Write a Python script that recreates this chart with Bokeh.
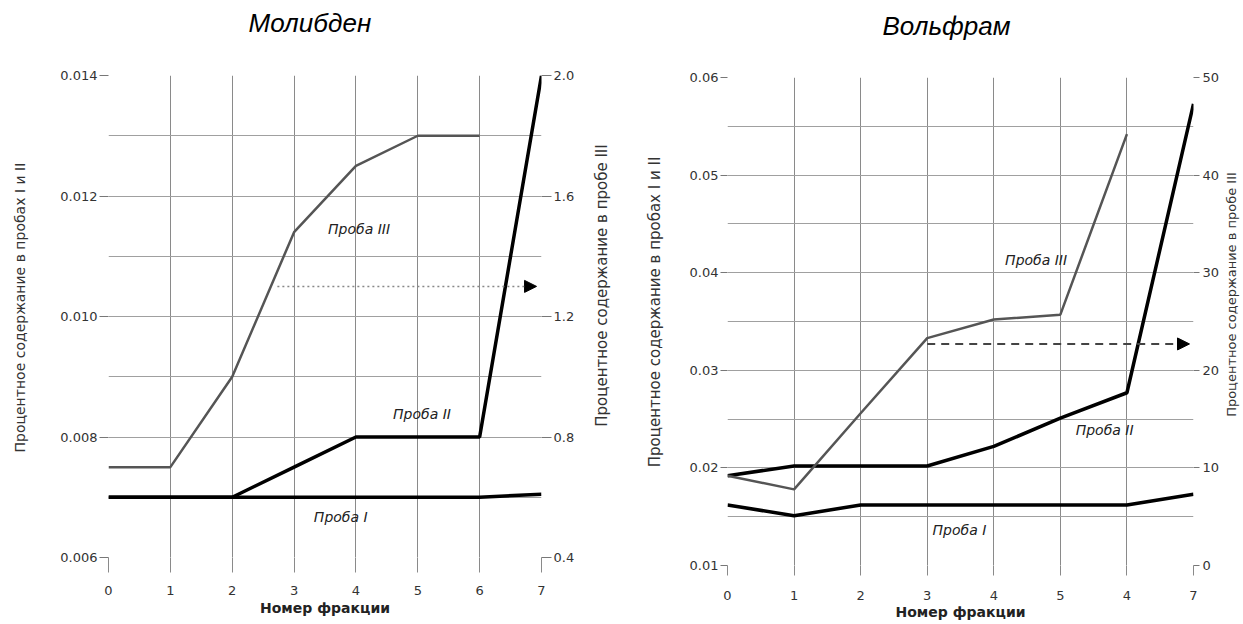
import math
from bokeh.plotting import figure
from bokeh.models import (Range1d, LinearAxis, FixedTicker, NumeralTickFormatter,
                          Label, Arrow, NormalHead, Title)
from bokeh.layouts import row
from bokeh.embed import file_html
from bokeh.resources import INLINE

# ---------------- data ----------------
fractions = [0, 1, 2, 3, 4, 5, 6, 7]
fractions_iii = [0, 1, 2, 3, 4, 5, 6]
x_labels_mo = ["0", "1", "2", "3", "4", "5", "6", "7"]
x_labels_w = ["0", "1", "2", "3", "4", "5", "4", "7"]

# Molybdenum (left axis: samples I and II, right axis: sample III)
mo_i = [0.0070, 0.0070, 0.0070, 0.0070, 0.0070, 0.0070, 0.0070, 0.00705]
mo_ii = [0.0070, 0.0070, 0.0070, 0.0075, 0.0080, 0.0080, 0.0080, 0.0140]
mo_iii = [0.70, 0.70, 1.00, 1.48, 1.70, 1.80, 1.80]
mo_left_ticks = [0.006, 0.008, 0.010, 0.012, 0.014]
mo_left_minor = [0.007, 0.009, 0.011, 0.013]
mo_right_ticks = [0.4, 0.8, 1.2, 1.6, 2.0]
mo_arrow_x = [2.73, 6.92]
mo_arrow_y = 1.3

# Tungsten
w_i = [0.0162, 0.0151, 0.0162, 0.0162, 0.0162, 0.0162, 0.0162, 0.0173]
w_ii = [0.0192, 0.0202, 0.0202, 0.0202, 0.0222, 0.0251, 0.0277, 0.0573]
w_iii = [9.2, 7.8, 15.6, 23.3, 25.2, 25.7, 44.2]
w_left_ticks = [0.01, 0.02, 0.03, 0.04, 0.05, 0.06]
w_left_minor = [0.015, 0.025, 0.035, 0.045, 0.055]
w_right_ticks = [0, 10, 20, 30, 40, 50]
w_arrow_x = [3.0, 6.94]
w_arrow_y = 22.7

LABEL_I_II = "Процентное содержание в пробах I и II"
LABEL_III = "Процентное содержание в пробе III"
NB = "\u00a0"

TICK_FONT = "DejaVu Sans"
GRID_H = "#a0a0a0"
GRID_V = "#8a8a8a"
H = 622


def base_panel(width, yr, yr_right, bl, br, bt, bb, title, title_offset, spacer):
    p = figure(width=width, height=H, x_range=Range1d(0, 7), y_range=Range1d(*yr),
               output_backend="svg", toolbar_location=None, tools="",
               min_border_left=bl, min_border_right=br, min_border_top=bt, min_border_bottom=bb,
               frame_align=False)
    p.outline_line_color = None
    p.background_fill_color = "white"
    p.border_fill_color = "white"
    p.extra_y_ranges = {"right": Range1d(*yr_right)}
    p.xgrid.grid_line_color = GRID_V
    p.xgrid.grid_line_width = 1
    p.ygrid.grid_line_color = GRID_H
    p.ygrid.minor_grid_line_color = GRID_H
    # real title (outermost)
    p.title.text = title
    p.title.text_font = "Liberation Sans"
    p.title.text_font_style = "italic"
    p.title.text_font_size = "26px"
    p.title.text_color = "black"
    p.title.align = "left"
    p.title.offset = title_offset
    p.title.standoff = 0
    p.title.vertical_align = "bottom"
    # spacer between the title and the frame
    p.add_layout(Title(text=" ", text_font_size="1px", standoff=spacer), "above")
    return p


def label_strip(width, x, y_from_top, text, size):
    s = figure(width=width, height=H, x_range=Range1d(0, width), y_range=Range1d(0, H),
               output_backend="svg", toolbar_location=None, tools="",
               x_axis_location=None, y_axis_location=None,
               min_border_left=0, min_border_right=0, min_border_top=0, min_border_bottom=0,
               frame_align=False)
    s.outline_line_color = None
    s.background_fill_color = "white"
    s.border_fill_color = "white"
    s.grid.visible = False
    s.add_layout(Label(x=x, y=H - y_from_top, text=text, text_font=TICK_FONT,
                       text_font_size=size, text_color="#333333", text_align="center",
                       text_baseline="middle", angle=math.pi / 2, angle_units="rad"))
    return s


def style_y(ax, tick_out, standoff, label=None, label_size="14px", label_standoff=5):
    ax.axis_line_color = None
    ax.major_tick_out = tick_out
    ax.major_tick_in = 0
    ax.minor_tick_out = 0
    ax.minor_tick_in = 0
    ax.major_tick_line_color = "#777777"
    ax.major_label_text_font = TICK_FONT
    ax.major_label_text_font_size = "13px"
    ax.major_label_text_color = "#333333"
    ax.major_label_standoff = standoff
    if label:
        ax.axis_label = label
        ax.axis_label_text_font = TICK_FONT
        ax.axis_label_text_font_style = "normal"
        ax.axis_label_text_font_size = label_size
        ax.axis_label_text_color = "#333333"
        ax.axis_label_standoff = label_standoff


def style_x(ax, labels, tick_out, standoff, lab_standoff):
    ax.ticker = FixedTicker(ticks=fractions)
    ax.major_label_overrides = {f: l for f, l in zip(fractions, labels)}
    ax.axis_line_color = None
    ax.major_tick_out = tick_out
    ax.major_tick_in = 0
    ax.minor_tick_out = 0
    ax.minor_tick_in = 0
    ax.major_tick_line_color = GRID_V
    ax.major_label_text_font = TICK_FONT
    ax.major_label_text_font_size = "13px"
    ax.major_label_text_color = "#333333"
    ax.major_label_standoff = standoff
    ax.axis_label = "Номер фракции"
    ax.axis_label_text_font = TICK_FONT
    ax.axis_label_text_font_style = "bold"
    ax.axis_label_text_font_size = "14px"
    ax.axis_label_text_color = "#222222"
    ax.axis_label_standoff = lab_standoff


def text_label(p, x, y, text):
    p.add_layout(Label(x=x, y=y, text=text, text_font=TICK_FONT, text_font_style="italic",
                       text_font_size="14px", text_align="left", text_baseline="middle",
                       text_color="#222222"))


# ---------------- Molybdenum panel ----------------
p1 = base_panel(592, (0.006, 0.014), (0.4, 2.0), 108, 51, 75, 65, "Молибден", 140, 35)
yl = p1.yaxis[0]
yl.ticker = FixedTicker(ticks=mo_left_ticks, minor_ticks=mo_left_minor)
yl.formatter = NumeralTickFormatter(format="0.000")
style_y(yl, 9, 2, NB * 4 + LABEL_I_II, "14px", 29)
yr1 = LinearAxis(y_range_name="right", ticker=FixedTicker(ticks=mo_right_ticks),
                 formatter=NumeralTickFormatter(format="0.0"))
style_y(yr1, 10, 2)
p1.add_layout(yr1, "right")
style_x(p1.xaxis[0], x_labels_mo, 15, 13, 2)

p1.line(fractions, mo_i, line_color="black", line_width=3.5)
p1.line(fractions, mo_ii, line_color="black", line_width=3.5)
p1.line(fractions_iii, mo_iii, line_color="#555555", line_width=2.5, y_range_name="right")

p1.add_layout(Arrow(end=NormalHead(size=12, fill_color="black", line_color="black"),
                    x_start=mo_arrow_x[0], y_start=mo_arrow_y, x_end=mo_arrow_x[1], y_end=mo_arrow_y,
                    y_range_name="right", line_color="#888888", line_width=1.5, line_dash="2 3"))

text_label(p1, 3.55, 0.01146, "Проба III")
text_label(p1, 4.60, 0.00839, "Проба II")
text_label(p1, 3.32, 0.00668, "Проба I")

s1 = label_strip(28, 9, 285, LABEL_III, "15px")

# ---------------- Tungsten panel ----------------
p2 = base_panel(602, (0.01, 0.06), (0, 50), 107, 29, 77, 57, "Вольфрам", 155, 34)
yl2 = p2.yaxis[0]
yl2.ticker = FixedTicker(ticks=w_left_ticks, minor_ticks=w_left_minor)
yl2.formatter = NumeralTickFormatter(format="0.00")
style_y(yl2, 7, 2, NB * 4 + LABEL_I_II, "15px", 23)
yr2 = LinearAxis(y_range_name="right", ticker=FixedTicker(ticks=w_right_ticks),
                 formatter=NumeralTickFormatter(format="0"))
style_y(yr2, 6, 3)
p2.add_layout(yr2, "right")
style_x(p2.xaxis[0], x_labels_w, 10, 15, 1)

p2.line(fractions, w_i, line_color="black", line_width=3.5)
p2.line(fractions, w_ii, line_color="black", line_width=3.5)
p2.line(fractions_iii, w_iii, line_color="#555555", line_width=2.5, y_range_name="right")

p2.add_layout(Arrow(end=NormalHead(size=12, fill_color="black", line_color="black"),
                    x_start=w_arrow_x[0], y_start=w_arrow_y, x_end=w_arrow_x[1], y_end=w_arrow_y,
                    y_range_name="right", line_color="#444444", line_width=2, line_dash="8 6"))

text_label(p2, 4.17, 0.04135, "Проба III")
text_label(p2, 5.23, 0.02393, "Проба II")
text_label(p2, 3.08, 0.0136, "Проба I")

s2 = label_strip(18, 9, 294, LABEL_III, "13px")

layout = row(p1, s1, p2, s2)
open("out.html", "w").write(file_html(layout, INLINE))
